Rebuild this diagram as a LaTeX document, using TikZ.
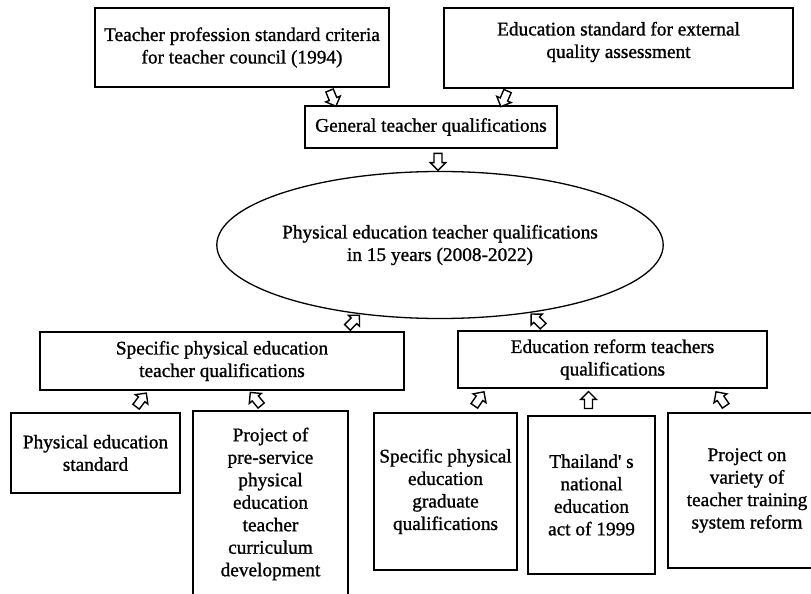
\documentclass[tikz,border=0pt]{standalone}
\usepackage{fontspec}
\setmainfont{Liberation Serif}[FakeBold=1.1, Ligatures=TeXOff]
\usetikzlibrary{shapes.geometric,shapes.arrows}
\begin{document}
\begin{tikzpicture}[x=1pt,y=-1pt,
  font=\fontsize{19.3}{22.5}\selectfont,
  box/.style={draw, line width=1.7pt, align=center, inner sep=0pt},
  txt/.style={align=center, inner sep=0pt},
  barrow/.style={single arrow, draw, fill=white, line width=1.4pt,
    minimum height=17pt, inner xsep=0pt, inner ysep=3.3pt,
    single arrow head extend=3.8pt, single arrow head indent=0pt,
    sloped, midway, allow upside down, anchor=center}]
\useasboundingbox (0,0) rectangle (811,594);
\clip (0,0) rectangle (811,594);

% top row
\node[box, minimum width=294pt, minimum height=79pt] (tl) at (242,47.5)
  {Teacher profession standard criteria\\for teacher council (1994)};
\node[box, minimum width=349pt, minimum height=80pt] (tr) at (618.5,48) {};
\node[txt] (trt) at (618.5,42) {Education standard for external\\quality assessment};
\node[box, minimum width=252pt, minimum height=42pt] (gen) at (431,127)
  {General teacher qualifications};

% ellipse
\node[ellipse, draw, line width=1.3pt, minimum width=434pt, minimum height=147pt,
  align=center, inner sep=0pt] (ell) at (440,245)
  {Physical education teacher qualifications\\in 15 years (2008-2022)};

% middle row
\node[box, minimum width=364pt, minimum height=58pt] (spe) at (222,361)
  {Specific physical education\\teacher qualifications};
\node[box, minimum width=309pt, minimum height=57pt] (er) at (612.5,359.5)
  {Education reform teachers\\qualifications};

% bottom row
\node[box, minimum width=169pt, minimum height=80pt] (pes) at (95.5,453)
  {Physical education\\standard};
\node[box, minimum width=155pt, minimum height=209pt] (proj) at (270.5,515.5) {};
\node[txt] (projt) at (270.5,504)
  {Project of\\pre-service\\physical\\education\\teacher\\curriculum\\development};
\node[box, minimum width=143pt, minimum height=157pt] (spg) at (445.5,491.5)
  {Specific physical\\education\\graduate\\qualifications};
\node[box, minimum width=127pt, minimum height=158pt] (tha) at (591.5,495)
  {Thailand' s\\national\\education\\act of 1999};
\node[box, minimum width=158pt, minimum height=155pt] (pov) at (747,490.5)
  {Project on\\variety of\\teacher training\\system reform};

% block arrows
\path ([xshift=86.5pt]tl.south) -- ([xshift=-95.5pt]gen.north) node[barrow] (a1) {};
\path ([xshift=-110pt]tr.south) -- ([xshift=70.5pt]gen.north) node[barrow] (a2) {};
\path ([xshift=7pt]gen.south) -- ([xshift=-2pt]ell.north) node[barrow] (a3) {};
\path ([xshift=121.8pt]spe.north) -- (ell.-139) node[barrow] (a4) {};
\path ([xshift=-65.5pt]er.north) -- (ell.-37) node[barrow] (a5) {};
\path ([xshift=36.5pt]pes.north) -- ([xshift=-74pt]spe.south) node[barrow] (a6) {};
\path ([xshift=-5.5pt]proj.north) -- ([xshift=27pt]spe.south) node[barrow] (a7) {};
\path ([xshift=24.5pt]spg.north) -- ([xshift=-126.5pt]er.south) node[barrow] (a8) {};
\path ([xshift=-3pt]tha.north) -- ([xshift=-24pt]er.south) node[barrow] (a9) {};
\path ([xshift=-17pt]pov.north) -- ([xshift=101.5pt]er.south) node[barrow] (a10) {};
\end{tikzpicture}
\end{document}
